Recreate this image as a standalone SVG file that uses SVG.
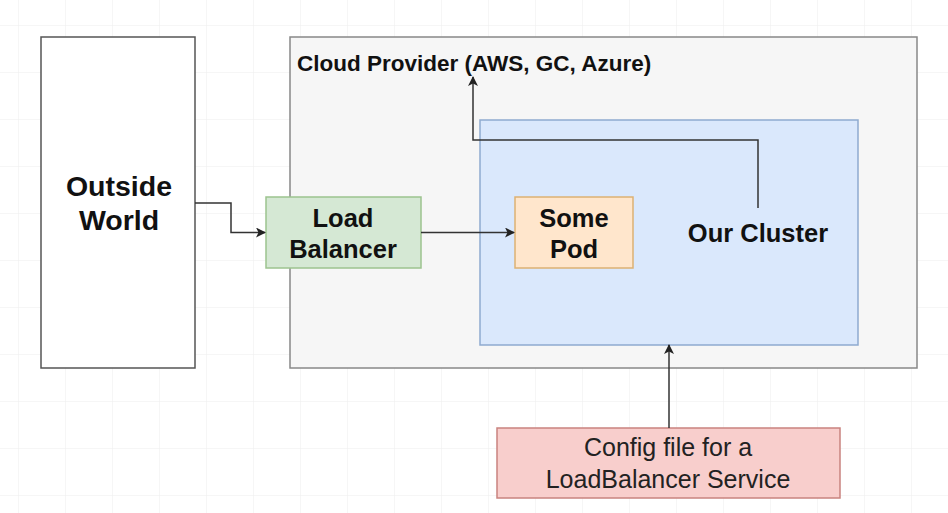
<svg xmlns="http://www.w3.org/2000/svg" width="948" height="513" viewBox="0 0 948 513">
<defs>
<pattern id="grid" width="47" height="47" patternUnits="userSpaceOnUse" x="18" y="25">
<path d="M0 0H47M0 0V47" fill="none" stroke="#ededed" stroke-width="1"/>
</pattern>
<marker id="arr" viewBox="0 0 10 10" refX="9" refY="5" markerWidth="10" markerHeight="10" markerUnits="userSpaceOnUse" orient="auto">
<path d="M0 0L10 5L0 10L2.5 5Z" fill="#222"/>
</marker>
</defs>
<style>
.b{font-family:"Liberation Sans",Arial,sans-serif;font-weight:bold;fill:#111;text-anchor:middle}
.r{font-family:"Liberation Sans",Arial,sans-serif;fill:#222;text-anchor:middle;font-size:25px}
.c{fill:none;stroke:#333;stroke-width:1.5;marker-end:url(#arr)}
</style>
<rect width="948" height="513" fill="#ffffff"/>
<rect width="948" height="513" fill="url(#grid)"/>
<g id="outside-world">
<rect x="41" y="37" width="154" height="331" fill="#ffffff" stroke="#555" stroke-width="1.5"/>
<text class="b" font-size="28.5" x="119" y="196">Outside</text>
<text class="b" font-size="28.5" x="119" y="230">World</text>
</g>
<g id="cloud-provider">
<rect x="290" y="37" width="627" height="331" fill="#f6f6f6" stroke="#888" stroke-width="1.5"/>
<text class="b" font-size="22.5" x="297" y="71" style="text-anchor:start">Cloud Provider (AWS, GC, Azure)</text>
</g>
<g id="our-cluster">
<rect x="480" y="120" width="378" height="225" fill="#dae8fc" stroke="#8eaad0" stroke-width="1.5"/>
<text class="b" font-size="25.5" x="758" y="242">Our Cluster</text>
</g>
<g id="load-balancer">
<rect x="266" y="197" width="155" height="71" fill="#d5e8d4" stroke="#9cc38f" stroke-width="1.5"/>
<text class="b" font-size="25.5" x="343" y="227">Load</text>
<text class="b" font-size="25.5" x="343" y="258">Balancer</text>
</g>
<g id="some-pod">
<rect x="515" y="197" width="118" height="71" fill="#ffe6cc" stroke="#ddb173" stroke-width="1.5"/>
<text class="b" font-size="25.5" x="574" y="227">Some</text>
<text class="b" font-size="25.5" x="574" y="258">Pod</text>
</g>
<g id="config-file">
<rect x="497" y="428" width="343" height="70" fill="#f8cecc" stroke="#c9837f" stroke-width="1.5"/>
<text class="r" x="668" y="456">Config file for a</text>
<text class="r" x="668" y="488">LoadBalancer Service</text>
</g>
<g id="connectors">
<path class="c" d="M195 203H231V232.5H265"/>
<path class="c" d="M421 232.5H514"/>
<path class="c" d="M758 208V140H473V77"/>
<path class="c" d="M669 428V345"/>
</g>
</svg>
